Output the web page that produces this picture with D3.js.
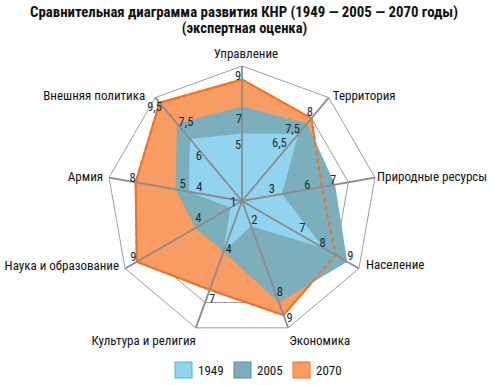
<!DOCTYPE html>
<html>
<head>
<meta charset="utf-8">
<script src="https://cdn.jsdelivr.net/npm/d3@7"></script>
<style>
  body { margin: 0; background: #fff; }
  svg { display: block; }
  text { font-family: "Liberation Sans Narrow", "Roboto Condensed", "DejaVu Sans Condensed", "Arial Narrow", sans-serif; fill: #111; }
</style>
</head>
<body>
<div id="chart"></div>
<script>
// axes, clockwise from the top
const axes = ["Управление", "Территория", "Природные ресурсы", "Население", "Экономика",
              "Культура и религия", "Наука и образование", "Армия", "Внешняя политика"];
const years = ["1949", "2005", "2070"];
const values1949 = [5, 6.5, 3, 7, 2, 4, 1, 4, 6];
const values2005 = [7, 7.5, 7, 9, 8, 4, 4, 5, 7.5];
const values2070 = [9, 8, 6, 8, 9, 7, 9, 8, 9.5];
const ringLevels = [2, 4, 6, 8, 10];

document.addEventListener('DOMContentLoaded', function() {
    const width = 493, height = 385;
    const cx = 242, cy = 201, radius = 135;

    const svg = d3.select("#chart").append("svg")
                  .attr("width", width)
                  .attr("height", height);

    const r = d3.scaleLinear().domain([0, 10]).range([0, radius]);
    const angle = d3.scaleLinear().domain([0, axes.length]).range([0, 2 * Math.PI]);
    const fmt = d3.formatLocale({ decimal: ",", thousands: " ", grouping: [3], currency: ["", ""] }).format("~g");

    const colors = {
        "1949": { fill: "#91d4f0", stroke: "#4db5df" },
        "2005": { fill: "#7bafbb", stroke: "#578e9b" },
        "2070": { fill: "#f89c63", stroke: "#ef7425" }
    };

    const pt = (i, v) => [cx + r(v) * Math.sin(angle(i)), cy - r(v) * Math.cos(angle(i))];

    const radial = d3.lineRadial()
        .angle((d, i) => angle(i))
        .radius(d => r(d))
        .curve(d3.curveLinearClosed);

    const g = svg.append("g").attr("transform", `translate(${cx},${cy})`);

    // grid rings (under the fills)
    g.selectAll(".ring").data(ringLevels).enter().append("path")
        .attr("d", lv => radial(axes.map(() => lv)))
        .style("fill", "none")
        .style("stroke", "#9e9e9e")
        .style("stroke-width", 1);

    // series areas: 2070 at the back, 1949 in front
    g.append("path").attr("d", radial(values2070))
        .style("fill", colors["2070"].fill)
        .style("stroke", colors["2070"].stroke)
        .style("stroke-width", 2)
        .style("stroke-linejoin", "round");
    g.append("path").attr("d", radial(values2005))
        .style("fill", colors["2005"].fill);
    g.append("path").attr("d", radial(values1949))
        .style("fill", colors["1949"].fill);

    // hidden part of the 2070 outline, dashed on top
    g.append("path").attr("d", radial(values2070))
        .style("fill", "none")
        .style("stroke", colors["2070"].stroke)
        .style("stroke-width", 2)
        .style("stroke-dasharray", "5,3");

    // spokes
    g.selectAll(".spoke").data(axes).enter().append("line")
        .attr("x1", 0).attr("y1", 0)
        .attr("x2", (d, i) => r(10) * Math.sin(angle(i)))
        .attr("y2", (d, i) => -r(10) * Math.cos(angle(i)))
        .style("stroke", "#8c8c8c")
        .style("stroke-width", 1.8);

    // value labels, offsets from each vertex
    const labelShift = {
        "1949": [[-4, 10.5], [-19, 9], [-10, -5], [-21.5, -20.5], [3, -7], null, [3, -6], [10.5, -5], [9, 17]],
        "2005": [[-3, 12], [-14.5, 5], [-2, -5.5], [3, -6], [1, -11], [5, -3.5], [3, -11], [7, -6], [9, -2]],
        "2070": [[-4, -4.5], [-1.5, -6.5], [-14.5, -2], [-13, -13], [6, 2], [2.5, 8.5], [-3.5, -5], [-3, -5], [-5, 4]]
    };
    const seriesValues = { "1949": values1949, "2005": values2005, "2070": values2070 };
    years.forEach(y => {
        seriesValues[y].forEach((v, i) => {
            const sh = labelShift[y][i];
            if (!sh) return;
            const p = pt(i, v);
            svg.append("text")
                .attr("x", p[0] + sh[0])
                .attr("y", p[1] + sh[1])
                .attr("text-anchor", "middle")
                .attr("dominant-baseline", "central")
                .style("font-size", "12.5px")
                .style("fill", "#1b2a38")
                .text(fmt(v));
        });
    });

    // axis names
    const axisLabel = [
        ["middle", 4, -13], ["start", 4, -2.5], ["start", 2, -1], ["start", 7, -4.5], ["start", 1, 13],
        ["end", 0, 13], ["end", -6, -3.5], ["end", -6, -1], ["end", -10, -2.5]
    ];
    axes.forEach((name, i) => {
        const p = pt(i, 10);
        svg.append("text")
            .attr("x", p[0] + axisLabel[i][1])
            .attr("y", p[1] + axisLabel[i][2])
            .attr("text-anchor", axisLabel[i][0])
            .attr("dominant-baseline", "central")
            .style("font-size", "13px")
            .text(name);
    });

    // title
    svg.append("text")
        .attr("x", 244).attr("y", 12)
        .attr("text-anchor", "middle")
        .attr("dominant-baseline", "central")
        .attr("textLength", 428)
        .attr("lengthAdjust", "spacingAndGlyphs")
        .style("font-size", "14.5px")
        .style("font-weight", "bold")
        .text("Сравнительная диаграмма развития КНР (1949 — 2005 — 2070 годы)");
    svg.append("text")
        .attr("x", 244.5).attr("y", 28)
        .attr("text-anchor", "middle")
        .attr("dominant-baseline", "central")
        .style("font-size", "14.5px")
        .style("font-weight", "bold")
        .text("(экспертная оценка)");

    // legend
    const legendX = d3.scalePoint().domain(years).range([175, 293]);
    const lg = svg.selectAll(".legend").data(years).enter().append("g")
        .attr("transform", d => `translate(${legendX(d)},362)`);
    lg.append("rect")
        .attr("width", 17).attr("height", 16)
        .style("fill", d => colors[d].fill)
        .style("stroke", d => colors[d].stroke)
        .style("stroke-width", 1);
    lg.append("text")
        .attr("x", 23).attr("y", 8)
        .attr("dominant-baseline", "central")
        .style("font-size", "13px")
        .text(d => d);
});
</script>
</body>
</html>
